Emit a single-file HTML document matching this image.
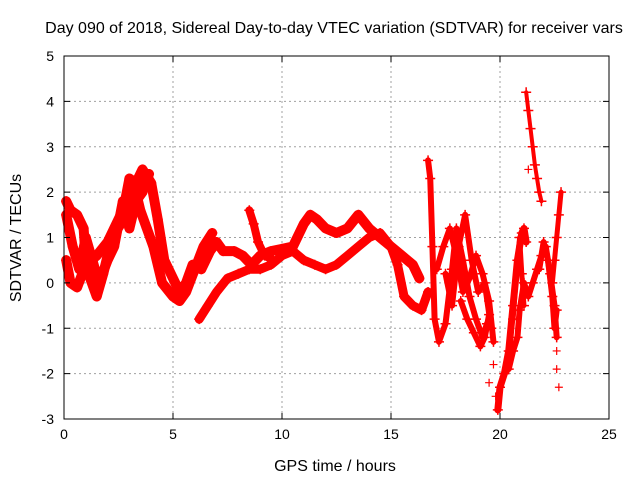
<!DOCTYPE html>
<html><head><meta charset="utf-8"><style>
body{margin:0;background:#fff}
svg{display:block;font-family:"Liberation Sans",sans-serif}
</style></head><body>
<svg id="chart" width="640" height="480" viewBox="0 0 640 480">
<rect width="640" height="480" fill="#fff"/>
<text x="334" y="33" text-anchor="middle" font-size="16">Day 090 of 2018, Sidereal Day-to-day VTEC variation (SDTVAR) for receiver vars</text>
<text x="335" y="471" text-anchor="middle" font-size="16">GPS time / hours</text>
<text transform="translate(21,238) rotate(-90)" text-anchor="middle" font-size="16">SDTVAR / TECUs</text>
<g id="grid"></g><g id="marks"></g><g id="axes"></g>
</svg>
<script>
const xTicks=[0,5,10,15,20,25];
const yTicks=[-3,-2,-1,0,1,2,3,4,5];
// traces: hours and TECU values
const t1h=[0.1,0.3,0.6,0.9,1.0,1.2,1.5,1.8,2.2,2.6,3.0,3.3,3.6,4.0,4.3,4.6,5.0,5.3,5.6,5.9,6.3,6.7,7.0,7.3,7.8,8.2,8.6,9.0,9.5,10,10.5,11,11.3,11.6,12,12.5,13,13.5,14,14.5,15,15.5,16,16.3];
const t1v=[1.8,1.6,1.5,1.2,0.5,0.1,-0.3,0.2,1.0,1.3,2.3,2.2,2.5,2.2,1.4,0.5,0.1,-0.2,0.0,0.4,0.3,0.7,0.9,0.7,0.7,0.6,0.4,0.6,0.7,0.75,0.8,1.3,1.5,1.4,1.2,1.1,1.2,1.5,1.2,1.0,0.8,0.6,0.4,0.1];
const t2h=[0.1,0.3,0.6,1.0,1.5,2.0,2.5,2.8,3.2,3.5,3.8,4.1,4.5,5.0,5.3,5.6,6.0,6.4,6.8];
const t2v=[0.5,0.0,-0.1,0.4,0.6,0.9,1.4,1.7,2.2,1.6,1.2,0.8,0.0,-0.3,-0.4,-0.2,0.3,0.8,1.1];
const t3h=[6.2,6.6,7.0,7.5,8.0,8.5,9.0,9.5,10,10.5,11,11.5,12,12.5,13,13.5,14,14.5,15,15.3,15.6,16,16.4,16.7];
const t3v=[-0.8,-0.5,-0.2,0.1,0.2,0.3,0.3,0.4,0.6,0.7,0.5,0.4,0.3,0.4,0.6,0.8,1.0,1.1,0.8,0.4,-0.3,-0.5,-0.6,-0.2];
const t4h=[8.5,8.7,8.9,9.2,9.6];
const t4v=[1.6,1.3,0.9,0.6,0.5];
const t5h=[16.7,16.8,16.9,17.0,17.2,17.5,17.8,18.0,18.3,18.6,18.9,19.2,19.4];
const t5v=[2.7,2.3,0.8,-0.8,-1.3,-0.9,0.3,1.2,0.5,-0.3,-0.8,-1.2,-0.9];
const t6h=[17.1,17.4,17.7,18.0,18.3,18.6,18.9,19.2,19.5,19.7];
const t6v=[0.3,0.8,1.2,0.6,-0.2,0.1,0.6,0.2,-0.4,-1.3];
const t7h=[18.2,18.5,18.8,19.1,19.3,19.5];
const t7v=[-0.4,-0.8,-1.1,-1.4,-1.2,-0.7];
const t8h=[19.9,20.0,20.2,20.4,20.6,20.8,21.0,21.1,21.2];
const t8v=[-2.8,-2.3,-2.0,-1.5,-0.5,0.5,1.1,1.2,0.9];
const t9h=[20.4,20.6,20.8,20.9,21.1,21.3,21.5,21.7,21.9,22.1,22.3,22.5,22.6];
const t9v=[-1.9,-1.5,-1.2,-0.6,0.0,-0.3,0.0,0.3,0.6,0.8,0.2,-0.5,-1.2];
const t10h=[21.2,21.3,21.4,21.5,21.6,21.7,21.8,21.9];
const t10v=[4.2,3.8,3.4,3.0,2.6,2.3,2.0,1.8];
const t11h=[22.4,22.5,22.6,22.7,22.8];
const t11v=[0.0,0.5,1.0,1.5,2.0];
const t12h=[0.1,0.4,0.7,1.0,1.3,1.6,2.0,2.3,2.7,3.0,3.3,3.6,3.9];
const t12v=[1.5,0.8,0.3,1.0,0.5,0.0,0.5,0.8,1.8,1.2,1.8,2.0,2.4];
const t13h=[17.5,17.8,18.1,18.4,18.7,19.0,19.3,19.6];
const t13v=[0.2,-0.5,0.8,1.5,0.5,-0.2,0.0,-1.0];
const t14h=[21.8,22.0,22.2,22.4,22.5,22.6];
const t14v=[0.3,0.9,0.5,-0.3,-1.0,-0.6];
const t15h=[20.6,20.8,20.9,21.0,21.1];
const t15v=[-0.8,0.5,1.0,0.2,-0.5];
const dotsH=[19.5,19.8,21.0,22.6,22.6,22.7,21.3,19.7];
const dotsV=[-2.2,-2.5,-0.5,-1.5,-1.9,-2.3,2.5,-1.8];

const X0=64,X1=609,Y0=56,Y1=419;
const sx=h=>X0+(h-0)/(25-0)*(X1-X0);
const sy=v=>Y1-(v+3)/8*(Y1-Y0);
const NS="http://www.w3.org/2000/svg";
function mk(tag,attrs,parent){const e=document.createElementNS(NS,tag);for(const k in attrs)e.setAttribute(k,attrs[k]);parent.appendChild(e);return e;}
const grid=document.getElementById('grid'),marks=document.getElementById('marks'),axes=document.getElementById('axes');
xTicks.forEach(t=>{
  if(t>0&&t<25){const l=mk('line',{x1:sx(t),x2:sx(t),y1:Y0,y2:Y1,stroke:'#a0a0a0','stroke-dasharray':'2,3'},grid);
  
  }
  const tk=mk('path',{d:`M${sx(t)},${Y1}v-6M${sx(t)},${Y0}v6`,stroke:'#000'},axes);
  
  
  const tx=mk('text',{x:sx(t),y:Y1+20,'text-anchor':'middle','font-size':14},axes);tx.textContent=t;
  
  
});
yTicks.forEach(t=>{
  if(t>-3&&t<5){const l=mk('line',{x1:X0,x2:X1,y1:sy(t),y2:sy(t),stroke:'#a0a0a0','stroke-dasharray':'2,3'},grid);
  
  }
  const tk=mk('path',{d:`M${X0},${sy(t)}h6M${X1},${sy(t)}h-6`,stroke:'#000'},axes);
  
  
  const tx=mk('text',{x:X0-10,y:sy(t)+5,'text-anchor':'end','font-size':14},axes);tx.textContent=t;
  
  
});
const fr=mk('rect',{x:X0,y:Y0,width:X1-X0,height:Y1-Y0,fill:'none',stroke:'#000'},axes);


const tracks=[[t1h,t1v,10],[t2h,t2v,10],[t3h,t3v,9],[t4h,t4v,8],[t5h,t5v,6],[t6h,t6v,6],[t7h,t7v,6],[t8h,t8v,7],[t9h,t9v,6],[t10h,t10v,4],[t11h,t11v,5],[t12h,t12v,10],[t13h,t13v,6],[t14h,t14v,6],[t15h,t15v,5]];
tracks.forEach(([H,V,w])=>{
  const pts=H.map((h,j)=>sx(h)+','+sy(V[j])).join(' ');
  const pl=mk('polyline',{points:pts,fill:'none',stroke:'#f00','stroke-width':w,'stroke-linejoin':'round','stroke-linecap':'round'},marks);
  
  
  H.forEach((h,j)=>{const m=mk('path',{d:`M${sx(h)-5},${sy(V[j])}h10M${sx(h)},${sy(V[j])-5}v10`,stroke:'#f00','stroke-width':1.5},marks);
    
    });
});
dotsH.forEach((h,j)=>{const m=mk('path',{d:`M${sx(h)-4},${sy(dotsV[j])}h8M${sx(h)},${sy(dotsV[j])-4}v8`,stroke:'#f00','stroke-width':1.2},marks);
  
  });
</script>
</body></html>
